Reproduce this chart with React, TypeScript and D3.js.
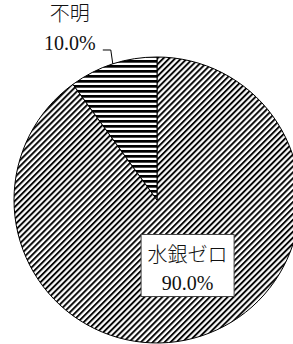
import React, { useEffect, useState } from 'react';
import * as d3 from 'd3';

const categories = ['水銀ゼロ', '不明'];
const values = [90.0, 10.0];
const valueLabels = ['90.0%', '10.0%'];

const App: React.FC = () => {
  const [svgRef, setSvgRef] = useState<SVGSVGElement | null>(null);
  const width = 293;
  const height = 344;

  useEffect(() => {
    if (!svgRef) return;

    d3.select(svgRef).selectAll('*').remove();

    const cx = 157;
    const cy = 200;
    const radius = 143;
    const font = "'Liberation Serif', 'Noto Sans CJK JP', serif";

    const svg = d3.select(svgRef)
      .attr('width', width)
      .attr('height', height);

    // hatch patterns
    const defs = svg.append('defs');
    const diag = defs.append('pattern')
      .attr('id', 'diag')
      .attr('patternUnits', 'userSpaceOnUse')
      .attr('width', 4.2)
      .attr('height', 4.2)
      .attr('patternTransform', 'rotate(45)');
    diag.append('rect').attr('width', 4.2).attr('height', 4.2).attr('fill', '#fff');
    diag.append('line')
      .attr('x1', 1).attr('y1', 0).attr('x2', 1).attr('y2', 4.2)
      .attr('stroke', '#000').attr('stroke-width', 1.9);

    const horiz = defs.append('pattern')
      .attr('id', 'horiz')
      .attr('patternUnits', 'userSpaceOnUse')
      .attr('width', 10)
      .attr('height', 5);
    horiz.append('rect').attr('width', 10).attr('height', 5).attr('fill', '#fff');
    horiz.append('rect').attr('y', 0).attr('width', 10).attr('height', 2.7).attr('fill', '#000');

    const fills = ['url(#diag)', 'url(#horiz)'];

    const pie = d3.pie<number>().sort(null).value(d => d);
    const arcs = pie(values);
    const arc = d3.arc<d3.PieArcDatum<number>>().innerRadius(0).outerRadius(radius);

    const g = svg.append('g').attr('transform', `translate(${cx},${cy})`);

    g.selectAll('path.slice')
      .data(arcs)
      .enter()
      .append('path')
      .attr('class', 'slice')
      .attr('d', arc)
      .attr('fill', (d, i) => fills[i])
      .attr('stroke', '#000')
      .attr('stroke-width', 1);

    // inner label (box) for the big slice
    const [ix, iy] = arc.centroid(arcs[0]);
    const boxW = 93;
    const boxH = 62;
    const lab = g.append('g').attr('transform', `translate(${ix + 8.5},${iy - 2.5})`);
    lab.append('rect')
      .attr('x', -boxW / 2)
      .attr('y', -boxH / 2)
      .attr('width', boxW)
      .attr('height', boxH)
      .attr('fill', '#fff')
      .attr('stroke', '#444')
      .attr('stroke-width', 1);
    lab.append('text')
      .attr('text-anchor', 'middle')
      .attr('y', -4)
      .attr('font-family', font)
      .attr('font-size', 20)
      .attr('font-weight', 300)
      .attr('fill', '#111')
      .text(categories[0]);
    lab.append('text')
      .attr('text-anchor', 'middle')
      .attr('y', 24)
      .attr('font-family', font)
      .attr('font-size', 20)
      .attr('fill', '#111')
      .text(valueLabels[0]);

    // outer label with leader for the small slice
    const edge = d3.arc<d3.PieArcDatum<number>>().innerRadius(radius).outerRadius(radius);
    const [ex, ey] = edge.centroid(arcs[1]);
    const bendX = ex - 2;
    const bendY = ey - 14;
    const endX = bendX - 8;
    g.append('path')
      .attr('d', d3.line()([[ex, ey], [bendX, bendY], [endX, bendY]]))
      .attr('fill', 'none')
      .attr('stroke', '#000')
      .attr('stroke-width', 1);
    const tx = endX - 33;
    g.append('text')
      .attr('x', tx)
      .attr('y', bendY)
      .attr('text-anchor', 'middle')
      .attr('font-family', font)
      .attr('font-size', 20)
      .attr('fill', '#111')
      .text(valueLabels[1]);
    g.append('text')
      .attr('x', tx)
      .attr('y', bendY - 29)
      .attr('text-anchor', 'middle')
      .attr('font-family', font)
      .attr('font-size', 20)
      .attr('font-weight', 300)
      .attr('fill', '#111')
      .text(categories[1]);
  }, [svgRef]);

  return (
    <svg ref={setSvgRef} style={{ position: 'absolute', left: 0, top: 0 }} />
  );
};

export default App;
